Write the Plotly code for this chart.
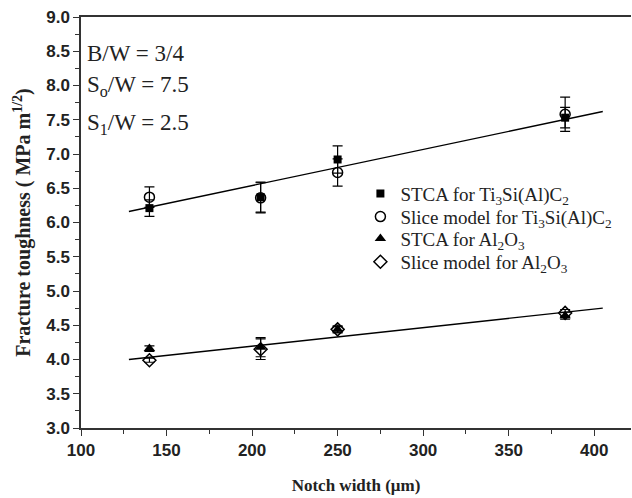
import plotly.graph_objects as go

# Data
notch = [140, 205, 250, 383]

stca_ti = [6.21, 6.37, 6.92, 7.53]
stca_ti_err = [0.12, 0.22, 0.20, 0.15]
slice_ti = [6.37, 6.36, 6.73, 7.58]
slice_ti_err = [0.15, 0.22, 0.20, 0.25]

stca_al = [4.16, 4.18, 4.44, 4.64]
stca_al_err = [0.04, 0.14, 0.04, 0.05]
slice_al = [3.99, 4.15, 4.44, 4.68]
slice_al_err = [0.03, 0.15, 0.05, 0.05]

fit_x = [128, 405]
fit_ti = [6.16, 7.62]
fit_al = [4.00, 4.75]

x_ticks = [100, 150, 200, 250, 300, 350, 400]
y_ticks = [3.0, 3.5, 4.0, 4.5, 5.0, 5.5, 6.0, 6.5, 7.0, 7.5, 8.0, 8.5, 9.0]

serif = "Liberation Serif"
sans = "Liberation Sans"

fig = go.Figure()

fig.add_trace(go.Scatter(x=fit_x, y=fit_ti, mode="lines", line=dict(color="black", width=1.4),
                         showlegend=False, hoverinfo="skip"))
fig.add_trace(go.Scatter(x=fit_x, y=fit_al, mode="lines", line=dict(color="black", width=1.4),
                         showlegend=False, hoverinfo="skip"))

def err(v):
    return dict(type="data", array=v, visible=True, color="black", thickness=1.2, width=5)

fig.add_trace(go.Scatter(x=notch, y=stca_ti, mode="markers", name="STCA for Ti<sub>3</sub>Si(Al)C<sub>2</sub>",
                         marker=dict(symbol="square", size=8, color="black"), error_y=err(stca_ti_err),
                         legend="legend"))
fig.add_trace(go.Scatter(x=notch, y=slice_ti, mode="markers", name="Slice model for Ti<sub>3</sub>Si(Al)C<sub>2</sub>",
                         marker=dict(symbol="circle-open", size=10, color="black", line=dict(width=1.5)),
                         error_y=err(slice_ti_err), legend="legend2"))
fig.add_trace(go.Scatter(x=notch, y=stca_al, mode="markers", name="STCA for Al<sub>2</sub>O<sub>3</sub>",
                         marker=dict(symbol="triangle-up", size=10, color="black"), error_y=err(stca_al_err),
                         legend="legend3"))
fig.add_trace(go.Scatter(x=notch, y=slice_al, mode="markers", name="Slice model for Al<sub>2</sub>O<sub>3</sub>",
                         marker=dict(symbol="diamond-open", size=10, color="black", line=dict(width=1.5)),
                         error_y=err(slice_al_err), legend="legend4"))

axis_common = dict(showline=True, linecolor="#333", linewidth=1.5, ticks="outside", ticklen=6,
                   tickwidth=1.3, tickcolor="#333", showgrid=False, zeroline=False, automargin=False,
                   tickfont=dict(family=sans, size=17, color="#222", weight="bold"))

leg_font = dict(family=serif, size=19, color="#222")
def leg(yc):
    return dict(x=0.508, y=yc, xanchor="left", yanchor="middle", bgcolor="rgba(0,0,0,0)", font=leg_font)

fig.update_layout(
    width=632, height=498,
    margin=dict(l=81, r=1, t=17, b=70),
    paper_bgcolor="white", plot_bgcolor="white",
    xaxis=dict(range=[100, 421.5], tickvals=x_ticks, mirror=True,
               minor=dict(ticks="outside", ticklen=4, dtick=25, tick0=100, tickcolor="#333"),
               title=dict(text="Notch width (\u03bcm)", font=dict(family=serif, size=17, color="#222", weight="bold"),
                          standoff=20),
               **axis_common),
    yaxis=dict(range=[3.0, 9.0], tickvals=y_ticks, tickformat=".1f",
               minor=dict(ticks="outside", ticklen=4, dtick=0.25, tick0=3.0, tickcolor="#333"),
               title=dict(text="Fracture toughness ( MPa m<sup>1/2</sup>)",
                          font=dict(family=serif, size=20, color="#222", weight="bold"), standoff=10),
               **axis_common),
    legend=leg(0.570),
    legend2=leg(0.514),
    legend3=leg(0.461),
    legend4=leg(0.404),
    showlegend=True,
)

ann_font = dict(family=serif, size=23, color="#222")
for txt, yv in [("B/W = 3/4", 8.47), ("S<sub>o</sub>/W = 7.5", 8.00), ("S<sub>1</sub>/W = 2.5", 7.44)]:
    fig.add_annotation(x=102.5, y=yv, xref="x", yref="y", text=txt, showarrow=False,
                       xanchor="left", yanchor="middle", font=ann_font)

fig.write_html("out.html", config={"displayModeBar": False},
               post_script="document.body.style.margin='0';document.body.style.overflow='hidden';")
